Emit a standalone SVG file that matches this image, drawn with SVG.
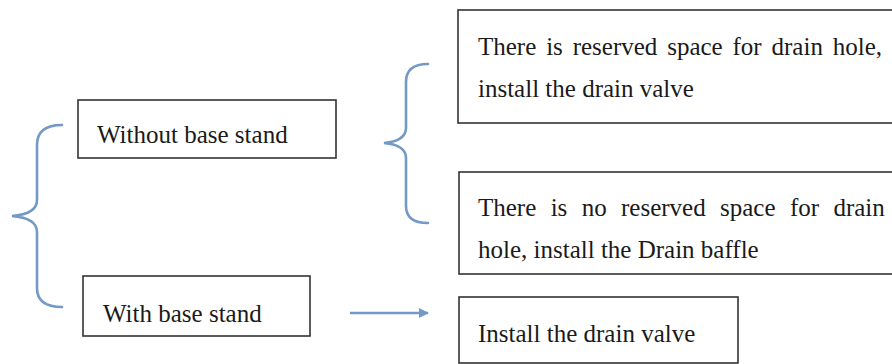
<svg xmlns="http://www.w3.org/2000/svg" width="892" height="364" viewBox="0 0 892 364">
<style>
.box{fill:#fff;stroke:#333;stroke-width:1.6}
.t{font-family:"Liberation Serif","Times New Roman",serif;font-size:25px;fill:#1a1a1a}
.br{fill:none;stroke:#7399c6;stroke-width:2.6;stroke-linecap:round}
</style>
<defs>
<marker id="ah" markerWidth="10" markerHeight="10" refX="9" refY="5" orient="auto" markerUnits="userSpaceOnUse" viewBox="0 0 10 10">
<path d="M0,0 L10,5 L0,10 z" fill="#7399c6"/>
</marker>
</defs>
<rect width="892" height="364" fill="#fff"/>
<g id="connectors">
<path class="br" d="M62,125 Q37,125 37,145 L37,200 Q37,214 12,216 Q37,218 37,232 L37,288 Q37,307 62,307"/>
<path class="br" d="M428,64 Q406,64 406,82 L406,128 Q406,141 384,143 Q406,145 406,158 L406,206 Q406,223 428,223"/>
<line x1="350" y1="313" x2="428" y2="313" stroke="#7399c6" stroke-width="2.6" marker-end="url(#ah)"/>
</g>
<g id="without">
<rect class="box" x="78" y="100" width="258" height="58"/>
<text class="t" x="97" y="143">Without base stand</text>
</g>
<g id="with">
<rect class="box" x="83" y="276" width="227" height="60"/>
<text class="t" x="103" y="322">With base stand</text>
</g>
<g id="reserved">
<rect class="box" x="458" y="10" width="450" height="113"/>
<text class="t" x="478" y="55" word-spacing="3.6">There is reserved space for drain hole,</text>
<text class="t" x="478" y="97">install the drain valve</text>
</g>
<g id="noreserved">
<rect class="box" x="459" y="172" width="450" height="102"/>
<text class="t" x="478" y="216" word-spacing="8.1">There is no reserved space for drain</text>
<text class="t" x="478" y="258">hole, install the Drain baffle</text>
</g>
<g id="install">
<rect class="box" x="459" y="297" width="279" height="66"/>
<text class="t" x="478" y="342">Install the drain valve</text>
</g>
</svg>
